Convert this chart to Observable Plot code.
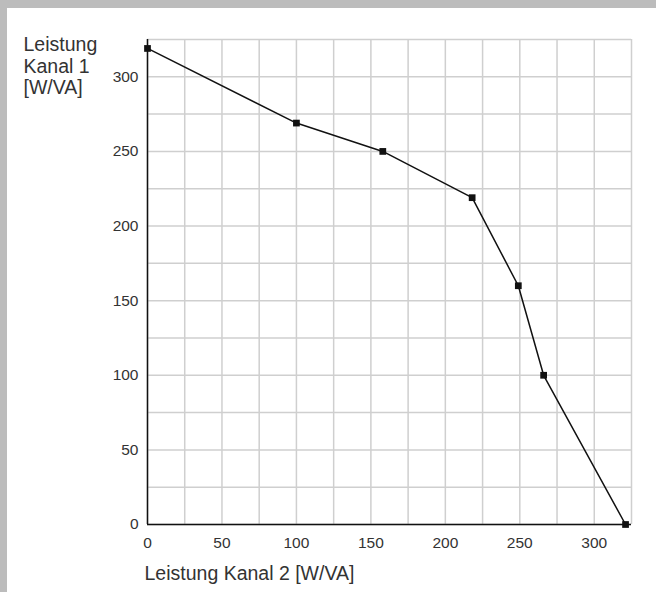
<!DOCTYPE html>
<html>
<head>
<meta charset="utf-8">
<script src="https://cdn.jsdelivr.net/npm/d3@7"></script>
<script src="https://cdn.jsdelivr.net/npm/@observablehq/plot@0.6"></script>
<style>
  html, body { margin: 0; padding: 0; background: #fff; }
  #frame { width: 649px; height: 584px; border-top: 8px solid #bcbcbc; border-left: 7px solid #bcbcbc; background: #fff; }
  svg { display: block; }
</style>
</head>
<body>
<div id="frame"></div>
<script>
const kanal2 = [0, 100, 158, 218, 249, 266, 321];
const kanal1 = [319, 269, 250, 219, 160, 100, 0];
const gridTicks = d3.range(0, 326, 25);
const labelTicks = [0, 50, 100, 150, 200, 250, 300];
const yTitle = "Leistung\nKanal 1\n[W/VA]";
const xTitle = "Leistung Kanal 2 [W/VA]";

const data = kanal2.map((x, i) => ({x, y: kanal1[i]}));

const chart = Plot.plot({
  width: 649,
  height: 584,
  marginLeft: 140,
  marginTop: 31,
  marginRight: 25,
  marginBottom: 68,
  style: {fontFamily: "'Liberation Sans', Arial, sans-serif", fontSize: "15.5px", color: "#333", background: "#fff"},
  x: {domain: [0, 325]},
  y: {domain: [0, 325]},
  marks: [
    Plot.gridX(gridTicks, {stroke: "#cfcfcf", strokeOpacity: 1, strokeWidth: 1.5}),
    Plot.gridY(gridTicks, {stroke: "#cfcfcf", strokeOpacity: 1, strokeWidth: 1.5}),
    Plot.axisX(labelTicks, {tickSize: 0, tickPadding: 12, label: null, fontSize: 15.5, fill: "#333"}),
    Plot.axisY(labelTicks, {tickSize: 0, tickPadding: 9, label: null, fontSize: 15.5, fill: "#333"}),
    Plot.ruleX([0], {stroke: "#111", strokeWidth: 1.5}),
    Plot.ruleY([0], {stroke: "#111", strokeWidth: 1.5}),
    Plot.line(data, {x: "x", y: "y", stroke: "#111", strokeWidth: 1.5}),
    Plot.dot(data, {x: "x", y: "y", symbol: "square", r: 3.8, fill: "#111", stroke: "none"}),
    Plot.text([yTitle], {frameAnchor: "top-left", dx: -124, dy: -3, textAnchor: "start", lineAnchor: "top", lineHeight: 1.08, fontSize: 19.5, fill: "#333"}),
    Plot.text([xTitle], {frameAnchor: "bottom-left", dx: -3, dy: 49, textAnchor: "start", lineAnchor: "middle", fontSize: 19.5, fill: "#333"})
  ]
});
document.getElementById("frame").appendChild(chart);
</script>
</body>
</html>
